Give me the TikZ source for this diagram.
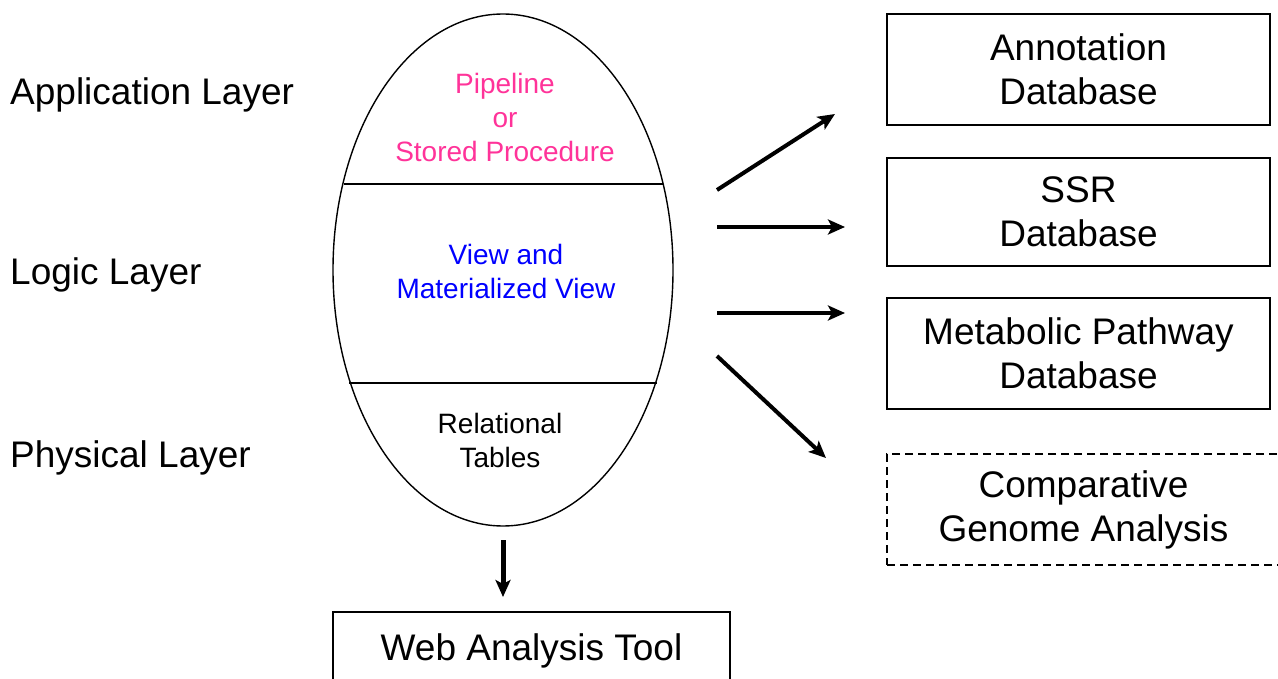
\documentclass[tikz,border=0pt]{standalone}
\usepackage{fontspec}
\setmainfont{Liberation Sans}
\usetikzlibrary{arrows.meta, positioning, shapes.geometric}
\definecolor{pipepink}{RGB}{255,51,153}

\begin{document}
\begin{tikzpicture}[x=1pt, y=-1pt,
    % Text styles
    layer/.style={anchor=west, font=\fontsize{37}{44}\selectfont, inner sep=0pt},
    intext/.style={align=center, font=\fontsize{28}{34}\selectfont, inner sep=0pt},
    % Database boxes on the right
    dbbox/.style={draw, line width=1.6pt, minimum width=383pt, minimum height=111pt, align=center, font=\fontsize{37}{44}\selectfont, inner sep=0pt},
    % Thick arrows
    flow/.style={-{Stealth[length=17pt, width=15pt, inset=4pt]}, line width=4pt}]

\useasboundingbox (0,0) rectangle (1278,679);

% Layer labels
\node[layer] (app) at (10,95) {Application Layer};
\node[layer] (logic) at (10,275) {Logic Layer};
\node[layer] (phys) at (10,458) {Physical Layer};

% Central ellipse with its three parts
\node[draw, ellipse, line width=1.4pt, minimum width=340pt, minimum height=512pt, inner sep=0pt] (ell) at (503,270) {};
\coordinate (c1l) at (343.5,184);
\coordinate (c1r) at (662.5,184);
\coordinate (c2l) at (349,383);
\coordinate (c2r) at (657,383);
\draw[line width=1.6pt] (c1l) -- (c1r);
\draw[line width=1.6pt] (c2l) -- (c2r);
\node[intext, text=pipepink] (pipe) at (505,117) {Pipeline\\or\\Stored Procedure};
\node[intext, text=blue] (view) at (506,271) {View and\\Materialized View};
\node[intext] (rel) at (500,440) {Relational\\Tables};

% Database boxes
\node[dbbox] (anno) at (1078.5,69.5) {Annotation\\Database};
\node[dbbox, minimum height=108pt] (ssr) at (1078.5,212) {SSR\\Database};
\node[dbbox] (meta) at (1078.5,353.5) {Metabolic Pathway\\Database};
\node[dbbox, dashed, dash pattern=on 8pt off 5pt, minimum width=393pt] (comp) at (1083.5,509.5) {Comparative\\Genome Analysis};

% Web tool box (cut by the lower edge)
\node[dbbox, minimum width=397pt, minimum height=78pt] (web) at (531.5,651) {Web Analysis Tool};

% Arrow ends
\coordinate (s1) at (717,190);
\coordinate (s2) at (717,227);
\coordinate (s3) at (717,313);
\coordinate (s4) at (717,356);
\coordinate (e1) at (835,114);
\coordinate (e2) at (845,227);
\coordinate (e3) at (845,313);
\coordinate (e4) at (826,458);
\coordinate (d1) at (503,540);
\coordinate (d2) at (503,597);

\draw[flow] (s1) -- (e1);
\draw[flow] (s2) -- (e2);
\draw[flow] (s3) -- (e3);
\draw[flow] (s4) -- (e4);
\draw[flow, line width=5pt] (d1) -- (d2);

\end{tikzpicture}
\end{document}
